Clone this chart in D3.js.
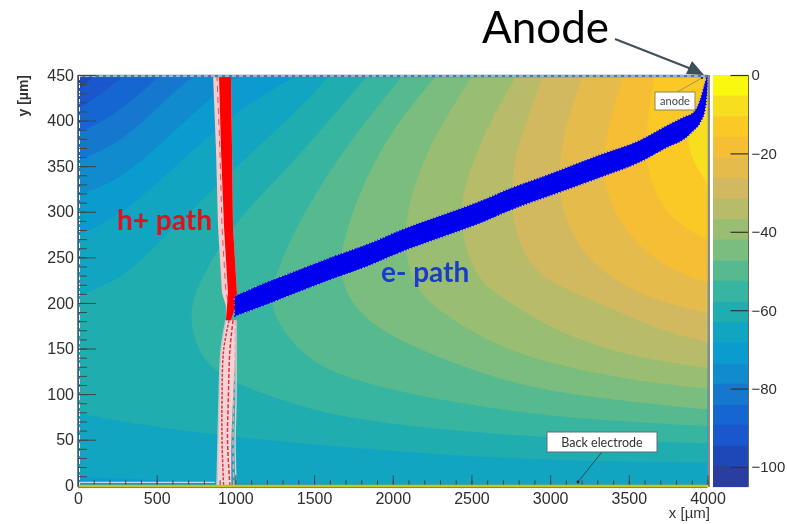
<!DOCTYPE html>
<html>
<head>
<meta charset="utf-8">
<script src="https://cdn.jsdelivr.net/npm/d3@7/dist/d3.min.js"></script>
<style>
  html, body { margin: 0; padding: 0; background: white; }
  svg { display: block; filter: blur(0.45px); }
  text { font-family: "Liberation Sans", sans-serif; }
  .tickLabels text { font-size: 16px; fill: #2f2f2f; font-family: "Liberation Sans", sans-serif; }
  .barLabels text { font-size: 15px; }
</style>
</head>
<body>
<svg id="chart" width="787" height="524"></svg>
<script>
// colour bar, top band (0 V) first
const bandColors = ['#F9F80F', '#F7DF1F', '#FBC926', '#F5BE35', '#E5BB4C', '#D2B95F', '#B8BB68', '#99BE71',
  '#7ABD7F', '#57BA8E', '#38B5A0', '#20ADB0', '#11A5C2', '#0A9BCF', '#108CCE', '#1578CE',
  '#1666D2', '#1A56CC', '#1E47B8', '#2A3DA0']
const bandStep = 5.25
const colorTicks = [0, -20, -40, -60, -80, -100]

const xMajor = [0, 500, 1000, 1500, 2000, 2500, 3000, 3500, 4000]
const yMajor = [0, 50, 100, 150, 200, 250, 300, 350, 400, 450]

// potential isolines, [x um, y um], one per band edge
const isoA = [[[4000, 417], [3889, 400], [3870, 382], [3901, 356], [4000, 331]]]
const isoB = [[[3666, 450], [3615, 400], [3603, 349], [3698, 309], [3825, 285], [4000, 269]]]
const isoC = [[[3463, 450], [3336, 375], [3336, 327], [3463, 280], [3698, 241], [4000, 222]]]
const isoD = [[[3209, 450], [3063, 378], [3044, 309], [3209, 250], [3463, 219], [3698, 201], [4000, 189]]]
const isoE = [[[2955, 450], [2853, 400], [2745, 345], [2764, 280], [2872, 241], [2999, 223], [3209, 207], [3444, 190], [3698, 170], [4000, 157]]]
const isoF = [[[2789, 450], [2618, 400], [2459, 334], [2427, 296], [2459, 258], [2554, 222], [2745, 200], [3107, 162], [3571, 139], [4000, 129]]]
const isoG = [[[2510, 450], [2192, 364], [2059, 283], [2097, 241], [2141, 217], [2300, 189], [2681, 151], [2999, 134], [3507, 115], [4000, 106]]]
const isoH = [[[2281, 450], [1900, 371], [1665, 265], [1665, 225], [1773, 189], [2046, 156], [2681, 115], [3107, 99], [4000, 83]]]
const isoI = [[[2065, 450], [1665, 364], [1379, 283], [1233, 222], [1220, 195], [1347, 157], [1557, 126], [1982, 104], [2681, 82], [3317, 71], [4000, 65]]]
const isoJ = [[[1843, 450], [1347, 349], [998, 291], [775, 225], [699, 189], [762, 140], [979, 112], [1379, 88], [1773, 71], [2681, 54], [4000, 46]]]
const isoK = [[[1601, 450], [1379, 408], [998, 349], [407, 247], [254, 225], [0, 208]],
  [[0, 79], [616, 60], [1379, 46], [2745, 27], [4000, 25]]]
const isoL = [[[1392, 450], [979, 408], [521, 334], [267, 296], [0, 274]],
  [[0, 9], [616, 5], [1400, 0], [4000, 0]]]
const isoM = [[[1029, 450], [934, 439], [616, 389], [267, 334], [0, 318]], [[0, 0], [4000, 0]]]
const isoN = [[[743, 450], [585, 428], [299, 378], [0, 356]], [[0, 0], [4000, 0]]]
const isoO = [[[521, 450], [457, 439], [203, 402], [0, 387]], [[0, 0], [4000, 0]]]
const isoP = [[[299, 450], [140, 428], [0, 413]], [[0, 0], [4000, 0]]]
const isoQ = [[[108, 450], [0, 433]], [[0, 0], [4000, 0]]]

// electron drift band
const eX = [998, 1156, 1347, 1601, 1855, 2046, 2300, 2554, 2745, 2999, 3317, 3571, 3742, 3857, 3908, 3952, 3984, 4000]
const eTop = [207, 219, 232, 249, 265, 279, 295, 311, 325, 341, 362, 378, 394, 404, 408, 421, 440, 450]
const eBottom = [186, 196, 209, 226, 242, 256, 272, 288, 302, 318, 338, 355, 371, 381, 389, 398, 413, 439]

// hole drift, solid upper part
const hY = [450, 367, 283, 211, 197, 181]
const hLeft = [896, 909, 928, 953, 947, 940]
const hRight = [972, 979, 985, 1010, 1004, 972]
const hFringe = [858, 877, 890, 915, 940, 940]

// hole drift, spread out lower part
const hLowY = [181, 148, 93, 49, 0]
const hLowLeft = [940, 909, 896, 890, 883]
const hLowRight = [1004, 1004, 1004, 998, 1004]
const hPaleRight = [1004, 1000, 985, 975, 975]
const hStrandA = [960, 925, 915, 915, 925]
const hStrandB = [985, 965, 955, 950, 965]
const hStrandC = [1000, 998, 990, 985, 990]

const svg = d3.select('#chart')

const x = d3.scaleLinear().domain([0, 4000]).range([78, 707.5])
const y = d3.scaleLinear().domain([0, 450]).range([485.3, 75])
const z = d3.scaleLinear().domain([0, -105]).range([75, 486.6])

svg.append('clipPath').attr('id', 'plotClip')
  .append('rect')
  .attr('x', x(0)).attr('y', y(450))
  .attr('width', x(4000) - x(0)).attr('height', y(0) - y(450))

const plot = svg.append('g').attr('clip-path', 'url(#plotClip)')

plot.append('rect')
  .attr('x', x(0)).attr('y', y(450))
  .attr('width', x(4000) - x(0)).attr('height', y(0) - y(450))
  .attr('fill', bandColors[18])

const isoLine = d3.line().x(d => x(d[0])).y(d => y(d[1])).curve(d3.curveBasis)

// deepest band first, each polygon holds everything nearer the anode
const isolines = [isoQ, isoP, isoO, isoN, isoM, isoL, isoK, isoJ, isoI, isoH, isoG, isoF, isoE, isoD, isoC, isoB, isoA]
isolines.forEach((branches, i) => {
  let path = branches.map((b, k) => {
    let s = isoLine(b)
    return k === 0 ? s : 'L' + s.slice(1)
  }).join('')
  path += 'L' + x(4000) + ',' + y(450) + 'Z'
  plot.append('path').attr('d', path).attr('fill', bandColors[17 - i])
})

// holes, lower part
const hLow = hLowY.map((v, i) => ({ y: v, l: hLowLeft[i], r: hLowRight[i], p: hPaleRight[i], a: hStrandA[i], b: hStrandB[i], c: hStrandC[i] }))
const paleArea = d3.area().y(d => y(d.y)).x0(d => x(d.l)).x1(d => x(d.p)).curve(d3.curveCatmullRom)
plot.append('path').datum(hLow).attr('d', paleArea).attr('fill', '#F5D2D5')
const strand = key => d3.line().y(d => y(d.y)).x(d => x(d[key])).curve(d3.curveCatmullRom)
plot.append('path').datum(hLow).attr('d', strand('l')).attr('fill', 'none').attr('stroke', '#C4C8CC').attr('stroke-width', 1.5)
plot.append('path').datum(hLow).attr('d', strand('r')).attr('fill', 'none').attr('stroke', '#C9D3D6').attr('stroke-width', 1.5)
plot.append('path').datum(hLow).attr('d', strand('c')).attr('fill', 'none').attr('stroke', '#F0A8AE').attr('stroke-width', 1.5).attr('stroke-dasharray', '5 3')
plot.append('path').datum(hLow).attr('d', strand('a')).attr('fill', 'none').attr('stroke', '#E8303A').attr('stroke-width', 1.5).attr('stroke-dasharray', '3 1.5')
plot.append('path').datum(hLow).attr('d', strand('b')).attr('fill', 'none').attr('stroke', '#E8303A').attr('stroke-width', 1.5).attr('stroke-dasharray', '4 2')

// holes, upper part
const hUp = hY.map((v, i) => ({ y: v, l: hLeft[i], r: hRight[i], f: hFringe[i] }))
plot.append('path').datum(hUp)
  .attr('d', d3.area().y(d => y(d.y)).x0(d => x(d.f)).x1(d => x(d.r)))
  .attr('fill', '#F8C9CC')
plot.append('path').datum(hUp)
  .attr('d', d3.line().y(d => y(d.y)).x(d => x(d.f + 25)))
  .attr('fill', 'none').attr('stroke', '#F04A50').attr('stroke-width', 1).attr('stroke-dasharray', '6 5')
plot.append('path').datum(hUp)
  .attr('d', d3.area().y(d => y(d.y)).x0(d => x(d.l)).x1(d => x(d.r)))
  .attr('fill', '#FF0000')

// electrons, dashed strokes give the band its rough edge
const eBand = eX.map((v, i) => ({ x: v, t: eTop[i], b: eBottom[i] }))
const eArea = d3.area().x(d => x(d.x)).y0(d => y(d.b)).y1(d => y(d.t)).curve(d3.curveMonotoneX)
plot.append('path').datum(eBand).attr('d', eArea)
  .attr('fill', '#0000EE')
  .attr('stroke', '#C8C8F0').attr('stroke-width', 2.6).attr('stroke-opacity', 0.6).attr('stroke-dasharray', '1.5 4')
plot.append('path').datum(eBand).attr('d', eArea)
  .attr('fill', '#0000EE')
  .attr('stroke', '#0000EE').attr('stroke-width', 2).attr('stroke-dasharray', '1 2')

// top electrode row and the edges
svg.append('line').attr('x1', x(0)).attr('x2', x(4000)).attr('y1', 76).attr('y2', 76)
  .attr('stroke', '#4A78A8').attr('stroke-width', 2.4)
svg.append('line').attr('x1', x(0)).attr('x2', x(4000)).attr('y1', 76).attr('y2', 76)
  .attr('stroke', '#E8EEF0').attr('stroke-width', 1).attr('stroke-dasharray', '4 3')
svg.append('line').attr('x1', 79.5).attr('x2', 79.5).attr('y1', y(450)).attr('y2', y(0))
  .attr('stroke', 'white').attr('stroke-width', 1).attr('stroke-dasharray', '5 3')
svg.append('line').attr('x1', x(0)).attr('x2', x(870)).attr('y1', 482.3).attr('y2', 482.3)
  .attr('stroke', '#E4F0F2').attr('stroke-width', 1)

// axes
const xAxisG = svg.append('g').attr('class', 'tickLabels').attr('transform', 'translate(0,' + y(0) + ')')
xAxisG.call(d3.axisBottom(x).tickValues(xMajor).tickSize(-10).tickPadding(7).tickFormat(d3.format('d')))
const xMinor = svg.append('g').attr('transform', 'translate(0,' + y(0) + ')')
xMinor.call(d3.axisBottom(x).tickValues(d3.range(0, 4001, 100)).tickSize(-5).tickFormat(''))
const yAxisG = svg.append('g').attr('class', 'tickLabels').attr('transform', 'translate(' + x(0) + ',0)')
yAxisG.call(d3.axisLeft(y).tickValues(yMajor).tickSize(-18).tickPadding(4).tickFormat(d3.format('d')))
const yMinor = svg.append('g').attr('transform', 'translate(' + x(0) + ',0)')
yMinor.call(d3.axisLeft(y).tickValues(d3.range(0, 451, 10)).tickSize(-9).tickFormat(''))
for (let g of [xAxisG, xMinor, yAxisG, yMinor]) {
  g.select('.domain').remove()
  g.selectAll('line').attr('stroke', '#444').attr('stroke-width', 1)
}

svg.append('line').attr('x1', x(0)).attr('x2', x(4000)).attr('y1', 486).attr('y2', 486)
  .attr('stroke', '#C9C41E').attr('stroke-width', 2.5)
svg.append('line').attr('x1', x(0)).attr('x2', x(4000)).attr('y1', 487.6).attr('y2', 487.6)
  .attr('stroke', '#555').attr('stroke-width', 0.8)
svg.append('line').attr('x1', 78).attr('x2', 78).attr('y1', 75).attr('y2', 487)
  .attr('stroke', '#3A4660').attr('stroke-width', 1.4)
svg.append('line').attr('x1', 709).attr('x2', 709).attr('y1', 75).attr('y2', 487)
  .attr('stroke', '#5A5A50').attr('stroke-width', 1.4)

// colour bar
const barLeft = 713
const barRight = 748.5
svg.selectAll('.band').data(bandColors).join('rect')
  .attr('class', 'band')
  .attr('x', barLeft).attr('width', barRight - barLeft)
  .attr('y', (d, i) => z(-i * bandStep))
  .attr('height', (d, i) => z(-(i + 1) * bandStep) - z(-i * bandStep) + 0.5)
  .attr('fill', d => d)
const zAxisG = svg.append('g').attr('class', 'tickLabels barLabels').attr('transform', 'translate(' + barRight + ',0)')
zAxisG.call(d3.axisRight(z).tickValues(colorTicks).tickSize(-18).tickPadding(3).tickFormat(d3.format('d')))
zAxisG.select('.domain').remove()
zAxisG.selectAll('line').attr('stroke', '#33342A').attr('stroke-width', 1.2)
svg.append('line').attr('x1', barRight).attr('x2', barRight).attr('y1', 75).attr('y2', 486.6)
  .attr('stroke', '#6A6A50').attr('stroke-width', 1)

// axis titles
svg.append('text').attr('transform', 'translate(28,75) rotate(-90)')
  .attr('text-anchor', 'end').attr('font-size', 14).attr('font-weight', 'bold').attr('fill', '#333')
  .text('y [µm]')
svg.append('text').attr('x', 710).attr('y', 518)
  .attr('text-anchor', 'end').attr('font-size', 15).attr('fill', '#333')
  .text('x [µm]')

// annotations
const noteFont = 'Lato, sans-serif'
svg.append('text').attr('x', 117).attr('y', 230)
  .attr('font-size', 28).attr('font-weight', 'bold').attr('fill', '#E0101C')
  .style('font-family', noteFont).text('h+ path')
svg.append('text').attr('x', 381).attr('y', 282)
  .attr('font-size', 28).attr('font-weight', 'bold').attr('fill', '#1A3CCB')
  .style('font-family', noteFont).text('e- path')
svg.append('text').attr('x', 482).attr('y', 43)
  .attr('font-size', 44).attr('fill', 'black')
  .style('font-family', noteFont).text('Anode')

svg.append('line').attr('x1', 615).attr('y1', 39).attr('x2', 694).attr('y2', 70)
  .attr('stroke', '#3F4F57').attr('stroke-width', 2)
svg.append('path').attr('d', 'M704,75L686,74L692,61Z').attr('fill', '#3F4F57')

svg.append('line').attr('x1', 677).attr('y1', 92).attr('x2', 702).attr('y2', 78)
  .attr('stroke', '#8A8A50').attr('stroke-width', 0.8)
svg.append('circle').attr('cx', 702).attr('cy', 78).attr('r', 1.1).attr('fill', '#222')
svg.append('rect').attr('x', 655).attr('y', 92).attr('width', 40).attr('height', 18)
  .attr('fill', 'white').attr('stroke', '#8A8A50').attr('stroke-width', 1)
svg.append('text').attr('x', 675).attr('y', 105).attr('text-anchor', 'middle')
  .attr('font-size', 11).attr('fill', '#444').style('font-family', noteFont).text('anode')

svg.append('line').attr('x1', 602).attr('y1', 452).attr('x2', 578).attr('y2', 482)
  .attr('stroke', '#2C4050').attr('stroke-width', 0.9)
svg.append('circle').attr('cx', 578).attr('cy', 482).attr('r', 1.4).attr('fill', '#222')
svg.append('rect').attr('x', 547).attr('y', 432).attr('width', 110).attr('height', 20)
  .attr('fill', 'white').attr('stroke', '#5A7078').attr('stroke-width', 1)
svg.append('text').attr('x', 602).attr('y', 446.5).attr('text-anchor', 'middle')
  .attr('font-size', 12.5).attr('fill', '#333').style('font-family', noteFont).text('Back electrode')
</script>
</body>
</html>
